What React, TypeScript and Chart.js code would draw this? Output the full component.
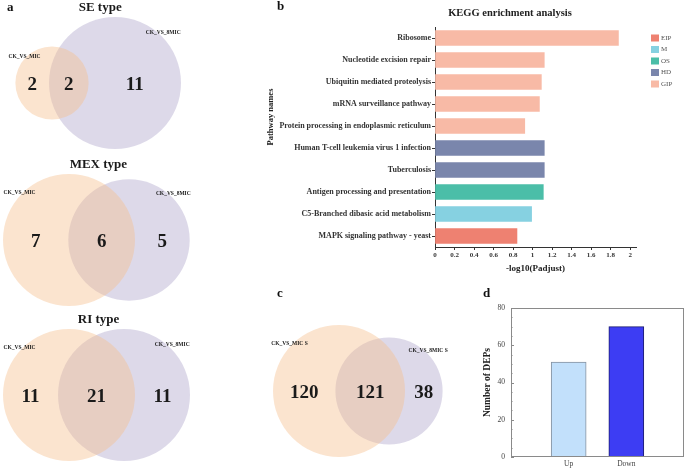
import React, { useEffect, useRef } from "react";
import { Chart, registerables } from "chart.js";

Chart.register(...registerables);

const SERIF = '"Liberation Serif", "Times New Roman", serif';

// ---------- Panel a & c : Venn counts ----------
const vennTitles = ["SE type", "MEX type", "RI type", ""];
const vennSetA = ["CK_VS_MIC", "CK_VS_MIC", "CK_VS_MIC", "CK_VS_MIC S"];
const vennSetB = ["CK_VS_8MIC", "CK_VS_8MIC", "CK_VS_8MIC", "CK_VS_8MIC S"];
const vennOnlyA = [2, 7, 11, 120];
const vennShared = [2, 6, 21, 121];
const vennOnlyB = [11, 5, 11, 38];

// ---------- Panel b : KEGG enrichment ----------
const keggTitle = "KEGG enrichment analysis";
const keggXTitle = "-log10(Padjust)";
const keggYTitle = "Pathway names";
const pathwayNames = [
  "Ribosome",
  "Nucleotide excision repair",
  "Ubiquitin mediated proteolysis",
  "mRNA surveillance pathway",
  "Protein processing in endoplasmic reticulum",
  "Human T-cell leukemia virus 1 infection",
  "Tuberculosis",
  "Antigen processing and presentation",
  "C5-Branched dibasic acid metabolism",
  "MAPK signaling pathway - yeast",
];
const negLogPadjust = [1.88, 1.12, 1.09, 1.07, 0.92, 1.12, 1.12, 1.11, 0.99, 0.84];
const pathwayClass = ["GIP", "GIP", "GIP", "GIP", "GIP", "HD", "HD", "OS", "M", "EIP"];
const classNames = ["EIP", "M", "OS", "HD", "GIP"];
const keggTicks = [0, 0.2, 0.4, 0.6, 0.8, 1, 1.2, 1.4, 1.6, 1.8, 2];

// ---------- Panel d : DEPs ----------
const depCategories = ["Up", "Down"];
const depCounts = [51, 70];
const depTicks = [0, 20, 40, 60, 80];
const depYTitle = "Number of DEPs";

// ---------- styles / layout ----------
const classColors: Record<string, string> = {
  EIP: "#ee8171",
  M: "#86d1e1",
  OS: "#4bbea8",
  HD: "#7a86ac",
  GIP: "#f8baa6",
};
const VENN_A_COLOR = "rgba(246,190,140,0.42)";
const VENN_B_COLOR = "rgba(170,160,200,0.40)";
const VENN_RMAX = 66;
const VENN_POS = [
  { cx: 52, cy: 83, d: 63 },
  { cx: 69, cy: 240, d: 60 },
  { cx: 69, cy: 395, d: 55 },
  { cx: 339, cy: 391, d: 50 },
];

function vennGeometry(i: number) {
  const a = vennOnlyA[i] + vennShared[i];
  const b = vennOnlyB[i] + vennShared[i];
  const m = Math.max(a, b);
  const p = VENN_POS[i];
  return {
    ax: p.cx,
    bx: p.cx + p.d,
    cy: p.cy,
    rA: VENN_RMAX * Math.sqrt(a / m),
    rB: VENN_RMAX * Math.sqrt(b / m),
  };
}

const vennTextPlugin = {
  id: "vennText",
  afterDatasetsDraw(chart: any) {
    const { ctx } = chart;
    const X = (v: number) => chart.scales.x.getPixelForValue(v);
    const Y = (v: number) => chart.scales.y.getPixelForValue(v);
    ctx.save();
    ctx.fillStyle = "#1a1a1a";
    ctx.textAlign = "center";
    vennTitles.forEach((title, i) => {
      const g = vennGeometry(i);
      const l = Math.min(g.ax - g.rA, g.bx - g.rB);
      const r = Math.max(g.ax + g.rA, g.bx + g.rB);
      const top = g.cy - Math.max(g.rA, g.rB);
      if (title) {
        ctx.textBaseline = "middle";
        ctx.font = `bold 13px ${SERIF}`;
        ctx.fillText(title, X((l + r) / 2 + 2), Y(top - 9));
      }
      ctx.textBaseline = "alphabetic";
      ctx.font = `bold 19px ${SERIF}`;
      const base = g.cy + 6.5;
      ctx.fillText(String(vennOnlyA[i]), X((g.ax - g.rA + g.bx - g.rB) / 2), Y(base));
      ctx.fillText(String(vennShared[i]), X((g.bx - g.rB + g.ax + g.rA) / 2), Y(base));
      ctx.fillText(String(vennOnlyB[i]), X((g.ax + g.rA + g.bx + g.rB) / 2), Y(base));
      ctx.textBaseline = "middle";
      ctx.font = `bold 5.5px ${SERIF}`;
      ctx.fillText(vennSetA[i], X(g.ax - 0.75 * g.rA), Y(g.cy - 0.72 * g.rA));
      ctx.fillText(vennSetB[i], X(g.bx + 0.73 * g.rB), Y(g.cy - 0.76 * g.rB));
    });
    ctx.restore();
  },
};

function vennConfig(): any {
  const geoms = vennTitles.map((_, i) => vennGeometry(i));
  return {
    type: "bubble",
    data: {
      datasets: [
        {
          label: "A",
          data: geoms.map((g) => ({ x: g.ax, y: g.cy, r: g.rA })),
          backgroundColor: VENN_A_COLOR,
          borderWidth: 0,
          clip: false,
        },
        {
          label: "B",
          data: geoms.map((g) => ({ x: g.bx, y: g.cy, r: g.rB })),
          backgroundColor: VENN_B_COLOR,
          borderWidth: 0,
          clip: false,
        },
      ],
    },
    options: {
      responsive: false,
      animation: false,
      events: [],
      layout: { padding: 0, autoPadding: false },
      plugins: { legend: { display: false }, tooltip: { enabled: false } },
      scales: {
        x: { type: "linear", min: 0, max: 685, display: false },
        y: { type: "linear", min: 0, max: 472, reverse: true, display: false },
      },
    },
    plugins: [vennTextPlugin],
  };
}

const keggDecor = {
  id: "keggDecor",
  afterDraw(chart: any) {
    const { ctx, chartArea } = chart;
    ctx.save();
    ctx.fillStyle = "#222";
    ctx.textAlign = "center";
    ctx.textBaseline = "middle";
    ctx.font = `bold 10.5px ${SERIF}`;
    ctx.fillText(keggTitle, chartArea.left + 75, 13);
    ctx.save();
    ctx.translate(11, 117);
    ctx.rotate(-Math.PI / 2);
    ctx.font = `bold 8.5px ${SERIF}`;
    ctx.fillText(keggYTitle, 0, 0);
    ctx.restore();
    chart.data.datasets.forEach((ds: any, k: number) => {
      const y = 38 + k * 11.5;
      ctx.fillStyle = ds.backgroundColor;
      ctx.fillRect(chartArea.right + 15, y - 3.5, 8, 7);
      ctx.fillStyle = "#555";
      ctx.textAlign = "left";
      ctx.font = `7px ${SERIF}`;
      ctx.fillText(ds.label, chartArea.right + 25, y);
    });
    ctx.restore();
  },
};

function keggConfig(): any {
  return {
    type: "bar",
    data: {
      labels: pathwayNames,
      datasets: classNames.map((c) => ({
        label: c,
        data: negLogPadjust.map((v, i) => (pathwayClass[i] === c ? v : null)),
        backgroundColor: classColors[c],
        borderWidth: 0,
        barThickness: 15,
      })),
    },
    options: {
      indexAxis: "y",
      responsive: false,
      animation: false,
      events: [],
      layout: { padding: { top: 27, right: 49, left: 0, bottom: 0 }, autoPadding: false },
      plugins: { legend: { display: false }, tooltip: { enabled: false } },
      scales: {
        x: {
          type: "linear",
          stacked: true,
          min: 0,
          max: 2.06,
          afterBuildTicks: (s: any) => {
            s.ticks = keggTicks.map((v) => ({ value: v }));
          },
          afterFit: (s: any) => {
            s.height = 33;
          },
          grid: { drawOnChartArea: false, drawTicks: true, tickLength: 3, color: "#333" },
          border: { color: "#333", width: 1 },
          ticks: {
            color: "#333",
            padding: 1,
            maxRotation: 0,
            autoSkip: false,
            font: { family: SERIF, size: 7, weight: "bold" },
            callback: (v: any) => String(v),
          },
          title: {
            display: true,
            text: keggXTitle,
            color: "#222",
            font: { family: SERIF, size: 9, weight: "bold" },
            padding: { top: 2, bottom: 6 },
          },
        },
        y: {
          stacked: true,
          afterFit: (s: any) => {
            s.width = 175;
          },
          grid: { offset: false, drawOnChartArea: false, drawTicks: true, tickLength: 3, color: "#333" },
          border: { color: "#333", width: 1 },
          ticks: {
            color: "#333",
            padding: 1,
            autoSkip: false,
            font: { family: SERIF, size: 8, weight: "bold" },
          },
        },
      },
    },
    plugins: [keggDecor],
  };
}

const depFrame = {
  id: "depFrame",
  afterDatasetsDraw(chart: any) {
    const { ctx, chartArea: a } = chart;
    const y = chart.scales.y;
    ctx.save();
    ctx.strokeStyle = "#8a8a8a";
    ctx.lineWidth = 1;
    ctx.strokeRect(a.left + 0.5, a.top + 0.5, a.right - a.left - 1, a.bottom - a.top - 1);
    const step = depTicks[1] - depTicks[0];
    const last = depTicks[depTicks.length - 1];
    for (let v = depTicks[0]; v <= last; v += step / 4) {
      const py = Math.round(y.getPixelForValue(v)) + 0.5;
      const len = v % step === 0 ? 3 : 1.5;
      ctx.beginPath();
      ctx.moveTo(a.left, py);
      ctx.lineTo(a.left + len, py);
      ctx.stroke();
    }
    ctx.restore();
  },
};

function depConfig(): any {
  return {
    type: "bar",
    data: {
      datasets: [
        {
          label: "DEPs",
          data: depCounts.map((v, i) => ({ x: i + 1, y: v })),
          backgroundColor: ["#c2e0fb", "#3d3df3"],
          borderColor: ["#8592a0", "#1c1c70"],
          borderWidth: 1,
          barThickness: 35,
        },
      ],
    },
    options: {
      responsive: false,
      animation: false,
      events: [],
      layout: { padding: { top: 28, right: 1, left: 0, bottom: 0 }, autoPadding: false },
      plugins: { legend: { display: false }, tooltip: { enabled: false } },
      scales: {
        x: {
          type: "linear",
          offset: false,
          min: 0,
          max: depCategories.length + 1,
          afterBuildTicks: (s: any) => {
            s.ticks = depCategories.map((_, i) => ({ value: i + 1 }));
          },
          afterFit: (s: any) => {
            s.height = 15;
          },
          grid: { display: false, drawTicks: false },
          border: { display: false },
          ticks: {
            color: "#444",
            padding: 3,
            maxRotation: 0,
            autoSkip: false,
            font: { family: SERIF, size: 7.5 },
            callback: (v: any) => depCategories[Math.round(v) - 1] ?? "",
          },
        },
        y: {
          type: "linear",
          min: depTicks[0],
          max: depTicks[depTicks.length - 1],
          afterBuildTicks: (s: any) => {
            s.ticks = depTicks.map((v) => ({ value: v }));
          },
          afterFit: (s: any) => {
            s.width = 31;
          },
          grid: { display: false, drawTicks: false },
          border: { display: false },
          ticks: {
            color: "#444",
            padding: 6,
            font: { family: SERIF, size: 7.5 },
          },
          title: {
            display: true,
            text: depYTitle,
            color: "#222",
            font: { family: SERIF, size: 9.5, weight: "bold" },
            padding: { top: 1.5, bottom: 0 },
          },
        },
      },
    },
    plugins: [depFrame],
  };
}

function ChartCanvas(props: {
  left: number;
  top: number;
  width: number;
  height: number;
  makeConfig: () => any;
}) {
  const ref = useRef<HTMLCanvasElement>(null);
  useEffect(() => {
    const chart = new Chart(ref.current as HTMLCanvasElement, props.makeConfig());
    return () => chart.destroy();
  }, []);
  return (
    <canvas
      ref={ref}
      width={props.width}
      height={props.height}
      style={{
        position: "absolute",
        left: props.left,
        top: props.top,
        width: props.width,
        height: props.height,
      }}
    />
  );
}

function PanelLetter(props: { text: string; left: number; top: number }) {
  return (
    <div
      style={{
        position: "absolute",
        left: props.left,
        top: props.top,
        font: `bold 13px ${SERIF}`,
        lineHeight: "13px",
        color: "#111",
      }}
    >
      {props.text}
    </div>
  );
}

export default function App() {
  return (
    <div
      style={{
        position: "fixed",
        left: 0,
        top: 0,
        width: 685,
        height: 472,
        background: "#fff",
        overflow: "hidden",
      }}
    >
      <ChartCanvas left={0} top={0} width={685} height={472} makeConfig={vennConfig} />
      <ChartCanvas left={260} top={0} width={425} height={280} makeConfig={keggConfig} />
      <ChartCanvas left={480} top={280} width={205} height={192} makeConfig={depConfig} />
      <PanelLetter text="a" left={7} top={0} />
      <PanelLetter text="b" left={277} top={-1} />
      <PanelLetter text="c" left={277} top={286} />
      <PanelLetter text="d" left={483} top={286} />
    </div>
  );
}
